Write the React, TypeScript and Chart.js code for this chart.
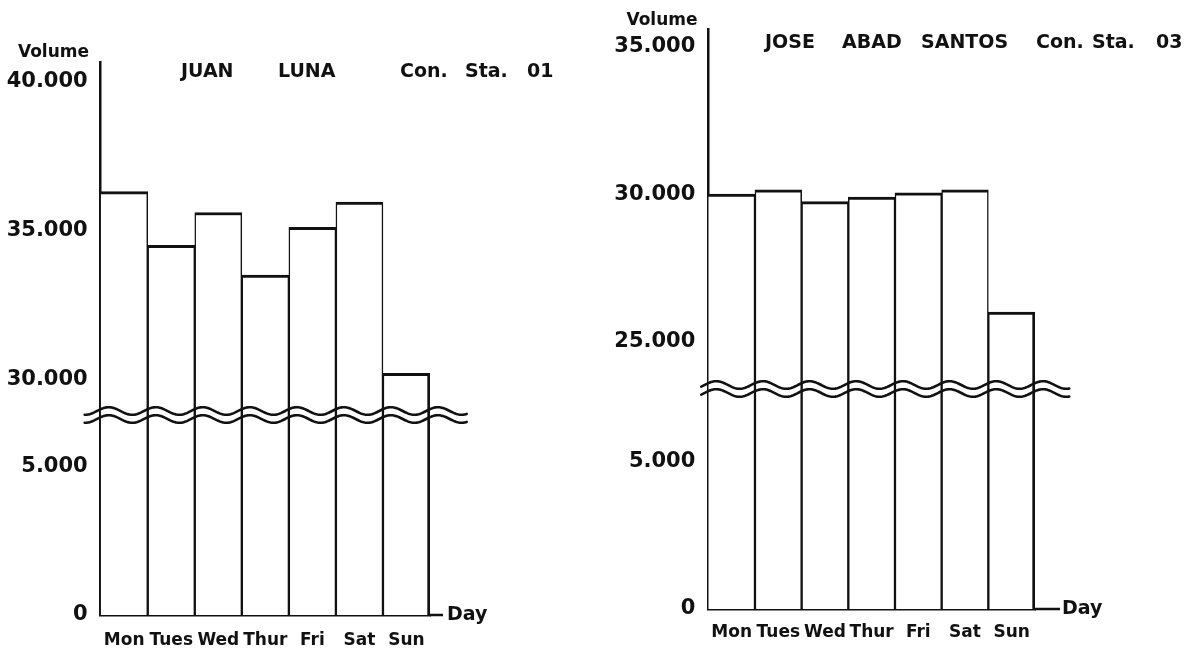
import React, { useEffect, useRef } from 'react';
import { Chart, registerables, LinearScale } from 'chart.js';

Chart.register(...registerables);

// ---------- data ----------
const DAYS = ['Mon', 'Tues', 'Wed', 'Thur', 'Fri', 'Sat', 'Sun'];

const JUAN_LUNA_VOLUMES = [36300, 34500, 35600, 33500, 35100, 35950, 30200];
const JUAN_LUNA_TICKS = [0, 5000, 30000, 35000, 40000];
const JUAN_LUNA_TICK_LABELS = ['0', '5.000', '30.000', '35.000', '40.000'];
const JUAN_LUNA_AXIS_MAX = 40655;
const JUAN_LUNA_BREAK = [6716, 28801];

const JOSE_ABAD_SANTOS_VOLUMES = [30000, 30150, 29750, 29900, 30050, 30150, 26000];
const JOSE_ABAD_SANTOS_TICKS = [0, 5000, 25000, 30000, 35000];
const JOSE_ABAD_SANTOS_TICK_LABELS = ['0', '5.000', '25.000', '30.000', '35.000'];
const JOSE_ABAD_SANTOS_AXIS_MAX = 35590;
const JOSE_ABAD_SANTOS_BREAK = [7458, 23397];

// ---------- broken linear scale ----------
class BrokenLinearScale extends LinearScale {
  static id = 'brokenLinear';
  static defaults = LinearScale.defaults;
  _virt(v: number) {
    const o: any = this.options;
    const from = o.breakFrom;
    const to = o.breakTo;
    if (v <= from) return v;
    if (v >= to) return from + (v - to);
    return from;
  }
  getPixelForValue(value: number) {
    if (value === null || value === undefined || isNaN(value)) return NaN;
    const a = this._virt(this.min);
    const b = this._virt(this.max);
    return this.getPixelForDecimal((this._virt(value) - a) / (b - a));
  }
  getValueForPixel(pixel: number) {
    const o: any = this.options;
    const a = this._virt(this.min);
    const b = this._virt(this.max);
    const v = a + this.getDecimalForPixel(pixel) * (b - a);
    return v <= o.breakFrom ? v : v - o.breakFrom + o.breakTo;
  }
}
Chart.register(BrokenLinearScale as any);

const FONT = "'DejaVu Sans', sans-serif";
const INK = '#111';
const CANVAS_W = 598;
const CANVAS_H = 656;

type Word = { text: string; x: number };
type PanelSpec = {
  key: string;
  pageLeft: number;
  values: number[];
  ticks: number[];
  tickLabels: string[];
  axisMax: number;
  brk: number[];
  axisWidth: number;
  xHeight: number;
  padding: { top: number; right: number };
  xTickPadding: number;
  volume: { x: number; y: number };
  titleY: number;
  words: Word[];
  waveStart: number;
  waveEnd: number;
  axisExt: number;
  dayGap: number;
};

const PANELS: PanelSpec[] = [
  {
    key: 'jl',
    pageLeft: 0,
    values: JUAN_LUNA_VOLUMES,
    ticks: JUAN_LUNA_TICKS,
    tickLabels: JUAN_LUNA_TICK_LABELS,
    axisMax: JUAN_LUNA_AXIS_MAX,
    brk: JUAN_LUNA_BREAK,
    axisWidth: 100.7,
    xHeight: 41,
    padding: { top: 62, right: 168 },
    xTickPadding: 7,
    volume: { x: 53.5, y: 53 },
    titleY: 72,
    words: [
      { text: 'JUAN', x: 181 },
      { text: 'LUNA', x: 278 },
      { text: 'Con.', x: 400 },
      { text: 'Sta.', x: 465 },
      { text: '01', x: 527 },
    ],
    waveStart: 16,
    waveEnd: 37,
    axisExt: 13,
    dayGap: 17,
  },
  {
    key: 'jas',
    pageLeft: 598,
    values: JOSE_ABAD_SANTOS_VOLUMES,
    ticks: JOSE_ABAD_SANTOS_TICKS,
    tickLabels: JOSE_ABAD_SANTOS_TICK_LABELS,
    axisMax: JOSE_ABAD_SANTOS_AXIS_MAX,
    brk: JOSE_ABAD_SANTOS_BREAK,
    axisWidth: 110.3,
    xHeight: 47,
    padding: { top: 29.3, right: 161 },
    xTickPadding: 5,
    volume: { x: 64, y: 21 },
    titleY: 43,
    words: [
      { text: 'JOSE', x: 167 },
      { text: 'ABAD', x: 244 },
      { text: 'SANTOS', x: 323 },
      { text: 'Con.', x: 438 },
      { text: 'Sta.', x: 494 },
      { text: '03', x: 558 },
    ],
    waveStart: 7,
    waveEnd: 35,
    axisExt: 25,
    dayGap: 27,
  },
];

function wave(ctx: CanvasRenderingContext2D, x0: number, x1: number, y: number, amp: number, period: number, phaseX: number) {
  ctx.beginPath();
  for (let x = x0; x <= x1; x += 1) {
    const yy = y - amp * Math.sin((2 * Math.PI * (x - phaseX)) / period);
    if (x === x0) ctx.moveTo(x, yy);
    else ctx.lineTo(x, yy);
  }
  ctx.stroke();
}

function makeDecor(spec: PanelSpec) {
  return {
    id: 'decor_' + spec.key,
    afterDraw(chart: any) {
      const ctx: CanvasRenderingContext2D = chart.ctx;
      const area = chart.chartArea;
      const xs = chart.scales.x;
      const ys = chart.scales.y;
      ctx.save();
      ctx.strokeStyle = INK;
      ctx.fillStyle = INK;
      ctx.lineCap = 'round';

      // break waves
      const period = xs.getPixelForValue(1) - xs.getPixelForValue(0);
      const yc = ys.getPixelForValue(spec.brk[0]);
      ctx.lineWidth = 2.6;
      const phase = area.left - 3.75;
      wave(ctx, area.left - spec.waveStart, area.right + spec.waveEnd, yc - 4, 3.8, period, phase);
      wave(ctx, area.left - spec.waveStart, area.right + spec.waveEnd, yc + 4, 3.8, period, phase);

      // x-axis extension and "Day"
      ctx.lineCap = 'butt';
      ctx.lineWidth = 2.5;
      ctx.beginPath();
      ctx.moveTo(area.right, area.bottom);
      ctx.lineTo(area.right + spec.axisExt, area.bottom);
      ctx.stroke();

      ctx.textBaseline = 'middle';
      ctx.textAlign = 'left';
      ctx.font = `bold 19px ${FONT}`;
      ctx.fillText('Day', area.right + spec.dayGap, area.bottom);

      // "Volume"
      ctx.textAlign = 'center';
      ctx.font = `bold 17px ${FONT}`;
      ctx.fillText('Volume', spec.volume.x, spec.volume.y);

      // title words
      ctx.textAlign = 'left';
      ctx.font = `bold 19px ${FONT}`;
      for (const w of spec.words) ctx.fillText(w.text, w.x, spec.titleY);

      ctx.restore();
    },
  };
}

function Panel({ spec }: { spec: PanelSpec }) {
  const ref = useRef<HTMLCanvasElement>(null);
  useEffect(() => {
    if (!ref.current) return;
    const last = spec.values.length - 1;
    const chart = new Chart(ref.current, {
      type: 'bar',
      data: {
        labels: DAYS,
        datasets: [
          {
            data: spec.values,
            backgroundColor: '#ffffff',
            borderColor: INK,
            borderWidth: (c: any) => ({
              top: 3,
              bottom: 0,
              left: c.dataIndex === 0 ? 0 : 1.5,
              right: c.dataIndex === last ? 3 : 1.5,
            }),
            borderSkipped: false,
            barPercentage: 1,
            categoryPercentage: 1,
          } as any,
        ],
      },
      options: {
        responsive: false,
        animation: false,
        events: [],
        layout: { padding: { left: 0, top: spec.padding.top, right: spec.padding.right, bottom: 0 } },
        plugins: {
          legend: { display: false },
          tooltip: { enabled: false },
          title: { display: false },
        },
        scales: {
          x: {
            type: 'category',
            grid: { display: false },
            border: { display: true, color: INK, width: 2.5 },
            ticks: {
              color: INK,
              font: { family: FONT, size: 17, weight: 'bold' },
              padding: spec.xTickPadding,
              maxRotation: 0,
              autoSkip: false,
            },
            afterFit: (s: any) => {
              s.height = spec.xHeight;
            },
          },
          y: {
            type: 'brokenLinear',
            min: 0,
            max: spec.axisMax,
            bounds: 'data',
            breakFrom: spec.brk[0],
            breakTo: spec.brk[1],
            grid: { display: false },
            border: { display: true, color: INK, width: 2.5 },
            ticks: {
              color: INK,
              font: { family: FONT, size: 21, weight: 'bold' },
              padding: 5,
              autoSkip: false,
              callback: (_v: any, i: number) => spec.tickLabels[i],
            },
            afterBuildTicks: (s: any) => {
              s.ticks = spec.ticks.map((v) => ({ value: v }));
            },
            afterFit: (s: any) => {
              s.width = spec.axisWidth;
            },
          } as any,
        },
      },
      plugins: [makeDecor(spec)],
    } as any);
    return () => chart.destroy();
  }, [spec]);
  return (
    <canvas
      ref={ref}
      width={CANVAS_W}
      height={CANVAS_H}
      style={{ position: 'absolute', left: spec.pageLeft, top: 0, width: CANVAS_W, height: CANVAS_H, display: 'block' }}
    />
  );
}

export default function App() {
  return (
    <div style={{ position: 'fixed', left: 0, top: 0, width: 1196, height: 656, background: '#ffffff', overflow: 'hidden' }}>
      {PANELS.map((p) => (
        <Panel key={p.key} spec={p} />
      ))}
    </div>
  );
}
